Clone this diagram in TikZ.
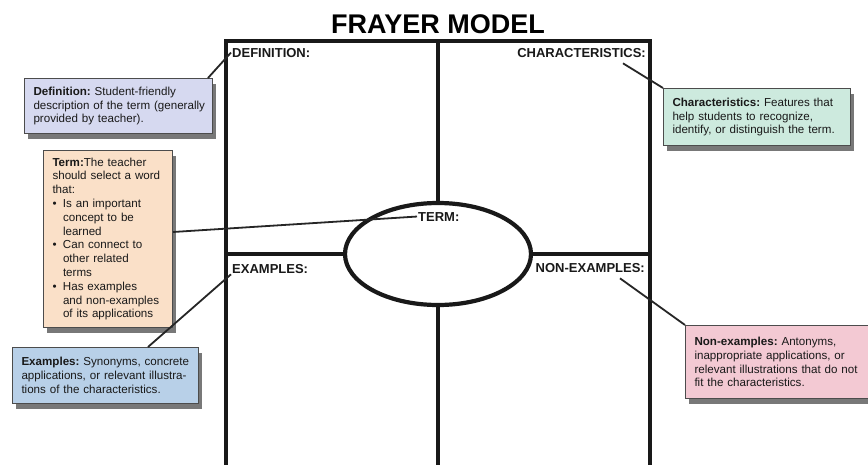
\documentclass[tikz,border=0pt]{standalone}
\usepackage{fontspec}
\setmainfont{Liberation Sans}
\usetikzlibrary{shadows,calc,shapes.geometric}
\definecolor{defcol}{RGB}{214,217,240}
\definecolor{charcol}{RGB}{205,234,222}
\definecolor{termcol}{RGB}{250,224,200}
\definecolor{excol}{RGB}{184,208,232}
\definecolor{noncol}{RGB}{243,201,211}
\newcommand{\myln}[1]{\mbox{#1}}
\newcommand{\mybl}[1]{\mbox{\makebox[10.5pt][l]{•}#1}}
\newcommand{\mycl}[1]{\mbox{\hspace*{10.5pt}#1}}
\begin{document}
\begin{tikzpicture}[x=1pt,y=-1pt,
  frameline/.style={line width=4.5pt, draw=black!90},
  conn/.style={line width=1.8pt, draw=black!85},
  callout/.style={draw=black!70, line width=1pt, anchor=north west, align=left,
    inner xsep=9pt, inner ysep=0pt, text=black!90,
    font=\fontsize{11.6}{13.8}\selectfont\frenchspacing,
    drop shadow={shadow xshift=3pt, shadow yshift=-5pt, opacity=0.7, fill=black!75}},
  lbl/.style={font=\fontsize{13}{15}\selectfont\bfseries, inner sep=1pt, text=black!90}]
\useasboundingbox (0,0) rectangle (868,464);
\fill[white] (0,0) rectangle (868,464);

\node[font=\fontsize{27}{30}\selectfont\bfseries, anchor=base, inner sep=0pt] (title) at (438,33) {FRAYER MODEL};

\begin{scope}
  \clip (0,0) rectangle (868,464);
  \draw[frameline] (226,41) rectangle (650,490);
  \draw[frameline] (438,41) -- (438,490);
  \draw[frameline] (226,254) -- (650,254);
\end{scope}
\node[draw=black!90, ellipse, line width=4.2pt, fill=white, minimum width=186pt, minimum height=102pt, inner sep=0pt] (termell) at (438,254) {};

\node[lbl, anchor=base west] (deflbl) at (231,57) {DEFINITION:};
\node[lbl, anchor=base east] (charlbl) at (647,57) {CHARACTERISTICS:};
\node[lbl, anchor=base west] (exlbl) at (231,273) {EXAMPLES:};
\node[lbl, anchor=base east] (nonlbl) at (646,272) {NON-EXAMPLES:};
\node[lbl, anchor=base west] (termlbl) at (417,221) {TERM:};

\node[callout, fill=defcol, text width=170pt, minimum height=55pt] (defbox) at (24,78)
  {\myln{\textbf{Definition:} Student-friendly}\\\myln{description of the term (generally}\\\myln{provided by teacher).}};
\node[callout, fill=charcol, text width=169pt, minimum height=57pt] (charbox) at (663,88)
  {\myln{\textbf{Characteristics:} Features that}\\\myln{help students to recognize,}\\\myln{identify, or distinguish the term.}};
\node[callout, fill=termcol, text width=111pt, minimum height=177pt] (termbox) at (43,150)
  {\myln{\textbf{Term:}The teacher}\\\myln{should select a word}\\\myln{that:}\\
   \mybl{Is an important}\\\mycl{concept to be}\\\mycl{learned}\\
   \mybl{Can connect to}\\\mycl{other related}\\\mycl{terms}\\
   \mybl{Has examples}\\\mycl{and non-examples}\\\mycl{of its applications}};
\node[callout, fill=excol, text width=168pt, minimum height=56pt] (exbox) at (12,347)
  {\myln{\textbf{Examples:} Synonyms, concrete}\\\myln{applications, or relevant illustra-}\\\myln{tions of the characteristics.}};
\node[callout, fill=noncol, text width=166pt, minimum height=73pt] (nonbox) at (685,325)
  {\myln{\textbf{Non-examples:} Antonyms,}\\\myln{inappropriate applications, or}\\\myln{relevant illustrations that do not}\\\myln{fit the characteristics.}};

\draw[conn] ($(defbox.north east)+(-5,0)$) -- (deflbl.west);
\draw[conn] ($(charlbl.south east)+(-24,5)$) -- (charbox.north west);
\draw[conn] ($(termbox.east)+(0,-7)$) -- (termlbl.west);
\draw[conn] ($(exbox.north west)+(136,0)$) -- (exlbl.south west);
\draw[conn] ($(nonlbl.south east)+(-26,5)$) -- (nonbox.north west);
\end{tikzpicture}
\end{document}
